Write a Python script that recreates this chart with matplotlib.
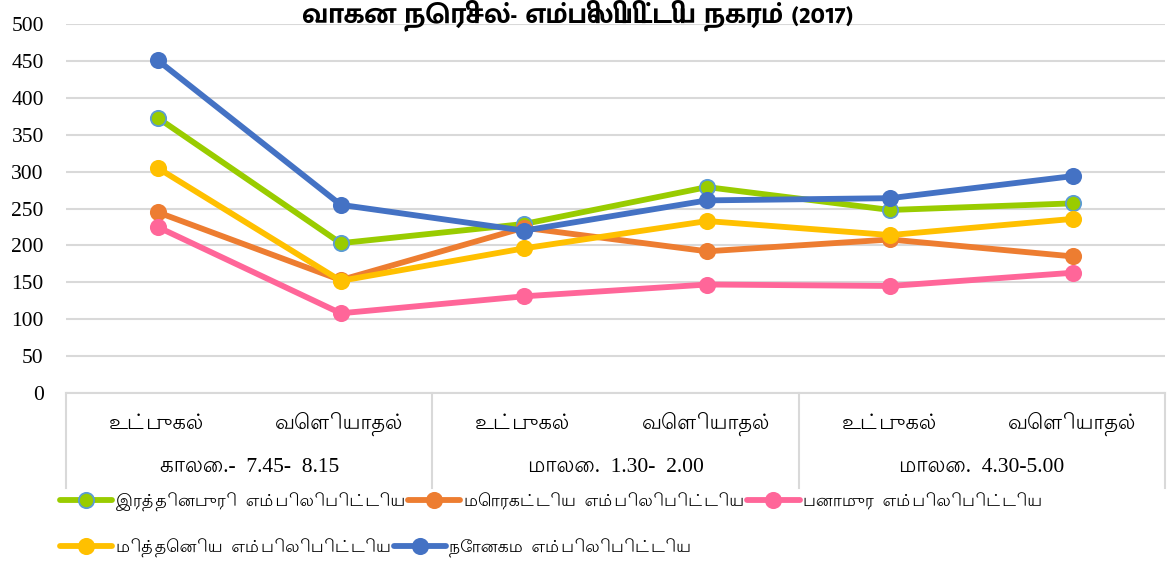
import matplotlib
matplotlib.use("Agg")
import matplotlib.pyplot as plt
import matplotlib.transforms as mtransforms
from matplotlib.lines import Line2D

title = "வாகன நெரிசல்- எம்பிலிபிட்டிய நகரம் (2017)"
sub_labels = ["உட்புகல்", "வெளியாதல்", "உட்புகல்", "வெளியாதல்", "உட்புகல்", "வெளியாதல்"]
group_labels = ["காலை.-  7.45-  8.15", "மாலை.  1.30-  2.00", "மாலை.  4.30-5.00"]
series_names = ["இரத்தினபுரி  எம்பிலிபிட்டிய", "மொரகட்டிய  எம்பிலிபிட்டிய", "பனாமுர  எம்பிலிபிட்டிய",
                "மித்தெனிய  எம்பிலிபிட்டிய", "நோனகம  எம்பிலிபிட்டிய"]
ratnapura = [373, 203, 229, 279, 248, 257]
moragatiya = [245, 153, 224, 192, 208, 185]
panamura = [225, 108, 131, 147, 145, 163]
mittheniya = [305, 152, 196, 233, 214, 236]
nonagama = [451, 255, 220, 261, 264, 294]
yticks = [0, 50, 100, 150, 200, 250, 300, 350, 400, 450, 500]

colors = ["#99CC00", "#ED7D31", "#FF6699", "#FFC000", "#4472C4"]
edge = ["#5B9BD5", "#ED7D31", "#FF6699", "#FFC000", "#4472C4"]
series = [ratnapura, moragatiya, panamura, mittheniya, nonagama]

fam = ["Liberation Serif", "Lohit Tamil", "FreeSerif", "DejaVu Sans"]
title_fam = ["Mukta Malar", "FreeSerif", "DejaVu Sans"]
plt.rcParams['font.family'] = fam

fig = plt.figure(figsize=(11.67, 5.71), dpi=100)
ax = fig.add_axes([66/1167, 1-393/571, (1165-66)/1167, (393-24)/571])

x = list(range(1, len(sub_labels)+1))
handles = []
for vals, c, e, n in zip(series, colors, edge, series_names):
    h, = ax.plot(x, vals, color=c, lw=4.2, marker='o', ms=11, mfc=c, mec=e, mew=1.3,
                 label=n, solid_capstyle='round', clip_on=False, zorder=3)
    handles.append(h)

ax.set_xlim(0.5, len(x)+0.5)
ax.set_ylim(0, 500)
ax.set_yticks(yticks)
ax.set_yticklabels([str(v) for v in yticks], fontsize=15.5)
ax.tick_params(axis='y', length=0, pad=16)
ax.set_xticks([])
ax.grid(axis='y', color='#D9D9D9', lw=1.5)
ax.set_axisbelow(True)
for s in ['top', 'right', 'left']:
    ax.spines[s].set_visible(False)
ax.spines['bottom'].set_color('#D9D9D9')
ax.spines['bottom'].set_linewidth(1.5)

# multi-level category axis
trans = mtransforms.blended_transform_factory(ax.transData, ax.transAxes)
ybot = -(488-393)/(393-24)
for xe in [0.5, 2.5, 4.5, 6.5]:
    ax.add_line(Line2D([xe, xe], [0, ybot], transform=trans, color='#D9D9D9', lw=1.5, clip_on=False))
y1 = -(424-393)/(393-24)
y2 = -(467-393)/(393-24)
for xi, lab in zip(x, sub_labels):
    ax.text(xi, y1, lab, transform=trans, ha='center', va='center', fontsize=15, family=fam)
for gi, lab in enumerate(group_labels):
    ax.text(2*gi+1.5, y2, lab, transform=trans, ha='center', va='center', fontsize=15.5, family=fam)

fig.text(578/1167, 1-15/571, title, ha='center', va='center', fontsize=21, fontweight='bold', family=title_fam)

common = dict(loc='center left', frameon=False, fontsize=12.5, handlelength=3.0, columnspacing=0.2,
              handletextpad=0.2, borderaxespad=0, borderpad=0)
leg1 = fig.legend(handles[:3], series_names[:3], bbox_to_anchor=(60/1167, 1-502/571), ncol=3, **common)
leg2 = fig.legend(handles[3:], series_names[3:], bbox_to_anchor=(60/1167, 1-548/571), ncol=2, **common)

fig.savefig("out.png", dpi=100)
